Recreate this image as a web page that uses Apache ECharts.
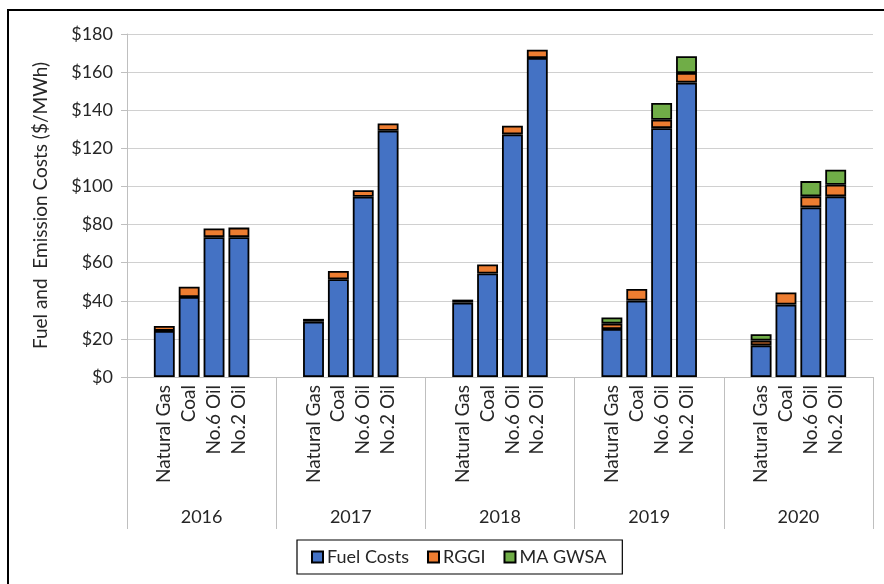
<!DOCTYPE html>
<html>
<head>
<meta charset="utf-8">
<script src="https://cdn.jsdelivr.net/npm/echarts@6/dist/echarts.min.js"></script>
<style>
  html, body { margin: 0; padding: 0; background: #fff; }
  #chart { width: 884px; height: 584px; }
</style>
</head>
<body>
<div id="chart"></div>
<script>
// Years and fuel types (multi-level category axis)
const years = ['2016', '2017', '2018', '2019', '2020'];
const fuels = ['Natural Gas', 'Coal', 'No.6 Oil', 'No.2 Oil'];

// $/MWh, ordered year by year, fuel by fuel
const fuelCosts = [24.2, 42.0, 73.4, 73.4,
                   29.0, 51.3, 94.6, 129.2,
                   39.0, 54.3, 127.3, 167.4,
                   25.2, 40.1, 130.6, 154.5,
                   16.6, 38.0, 89.0, 94.8];
const rggi = [2.6, 5.4, 4.5, 5.0,
              1.5, 4.3, 3.4, 3.8,
              1.6, 4.8, 4.6, 4.4,
              2.8, 6.1, 4.4, 5.0,
              2.5, 6.4, 5.8, 6.1];
const maGwsa = [null, null, null, null,
                null, null, null, null,
                null, null, null, null,
                3.2, null, 8.8, 8.8,
                3.3, null, 8.0, 7.9];

const yTicks = [0, 20, 40, 60, 80, 100, 120, 140, 160, 180];

// Each year gets a blank slot on either side of its four fuels
const categories = [];
const slotIndex = [];
years.forEach((y, yi) => {
  categories.push('');
  fuels.forEach((f, fi) => {
    slotIndex.push(categories.length);
    categories.push(f);
  });
  categories.push('');
});
function spread(values) {
  const out = new Array(categories.length).fill(null);
  values.forEach((v, i) => { out[slotIndex[i]] = v; });
  return out;
}

const FONT = 'Lato, "Open Sans", sans-serif';
const TXT = '#262626';
const AXIS_GRAY = '#bfbfbf';

const barBorder = { borderColor: '#000', borderWidth: 1.8 };

const chart = echarts.init(document.getElementById('chart'), null, { renderer: 'canvas' });
chart.setOption({
  backgroundColor: '#fff',
  animation: false,
  textStyle: { fontFamily: FONT },
  grid: { left: 127, right: 11, top: 34, bottom: 207, containLabel: false },
  graphic: [{
    type: 'rect',
    shape: { x: 8, y: 10, width: 900, height: 600 },
    style: { fill: 'none', stroke: '#000', lineWidth: 2 },
    silent: true
  }],
  legend: {
    left: 297,
    top: 540,
    padding: [8, 16, 8, 14],
    borderColor: '#000',
    borderWidth: 1.2,
    itemGap: 18,
    itemWidth: 11,
    itemHeight: 11,
    icon: 'rect',
    textStyle: { fontFamily: FONT, fontSize: 18, color: TXT, padding: [0, 0, 0, -1] },
    data: ['Fuel Costs', 'RGGI', 'MA GWSA']
  },
  xAxis: [{
    type: 'category',
    data: categories,
    axisLine: { lineStyle: { color: AXIS_GRAY } },
    axisTick: { show: false },
    axisLabel: {
      interval: 0, rotate: 90, margin: 8,
      fontFamily: FONT, fontSize: 19, color: TXT
    }
  }, {
    type: 'category',
    data: years,
    position: 'bottom',
    axisLine: { show: false },
    axisTick: { show: true, length: 152, interval: 0, lineStyle: { color: AXIS_GRAY } },
    axisLabel: { interval: 0, margin: 131, fontFamily: FONT, fontSize: 18, color: TXT }
  }],
  yAxis: {
    type: 'value',
    min: yTicks[0],
    max: yTicks[yTicks.length - 1],
    interval: yTicks[1] - yTicks[0],
    name: 'Fuel and  Emission Costs ($/MWh)',
    nameLocation: 'middle',
    nameGap: 77,
    nameRotate: 90,
    nameTextStyle: { fontFamily: FONT, fontSize: 19, color: TXT },
    axisLine: { show: true, lineStyle: { color: AXIS_GRAY } },
    axisTick: { show: true, length: 6, lineStyle: { color: AXIS_GRAY } },
    splitLine: { lineStyle: { color: '#d0d0d0', width: 1 } },
    axisLabel: {
      margin: 14,
      fontFamily: FONT, fontSize: 18, color: TXT,
      formatter: v => '$' + v
    }
  },
  series: [{
    name: 'Fuel Costs',
    type: 'bar',
    stack: 'cost',
    barWidth: '84%',
    data: spread(fuelCosts),
    itemStyle: Object.assign({ color: '#4472C4' }, barBorder)
  }, {
    name: 'RGGI',
    type: 'bar',
    stack: 'cost',
    data: spread(rggi),
    itemStyle: Object.assign({ color: '#ED7D31' }, barBorder)
  }, {
    name: 'MA GWSA',
    type: 'bar',
    stack: 'cost',
    data: spread(maGwsa),
    itemStyle: Object.assign({ color: '#70AD47' }, barBorder)
  }]
});
</script>
</body>
</html>
